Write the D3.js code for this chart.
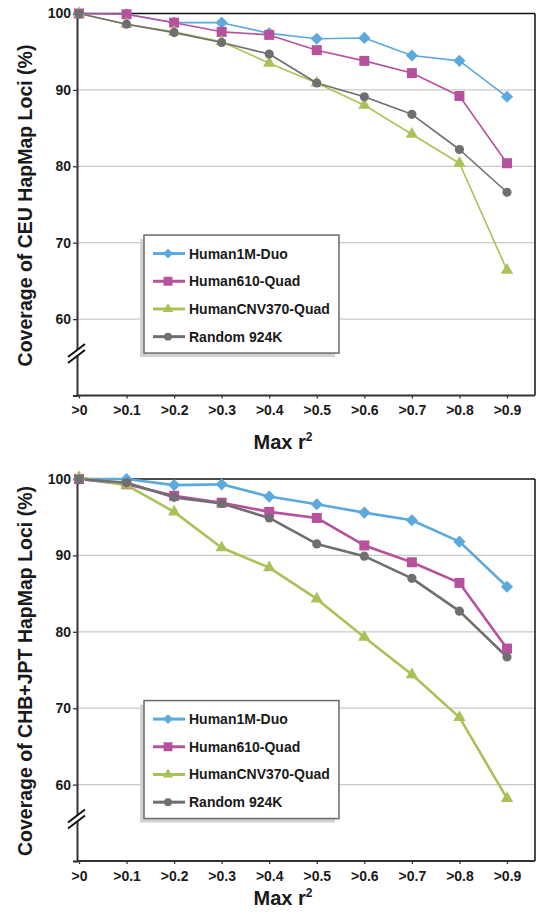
<!DOCTYPE html>
<html>
<head>
<meta charset="utf-8">
<script src="https://cdn.jsdelivr.net/npm/d3@7"></script>
<style>
  body { margin: 0; background: #fff; }
  svg text { font-family: "Liberation Sans", Arial, sans-serif; font-weight: bold; fill: #1a1a1a; }
</style>
</head>
<body>
<svg id="chart" width="539" height="915"></svg>
<script>
// categories on the x axis
const categories = [">0", ">0.1", ">0.2", ">0.3", ">0.4", ">0.5", ">0.6", ">0.7", ">0.8", ">0.9"];
const seriesNames = ["Human1M-Duo", "Human610-Quad", "HumanCNV370-Quad", "Random 924K"];
const seriesColors = ["#5BA9DD", "#B6519D", "#A9C257", "#6F6F72"];
const seriesSymbols = ["diamond", "square", "triangle", "circle"];
const yTicks = [50, 60, 70, 80, 90, 100];

// CEU panel values (%)
const ceuHuman1M = [100, 99.9, 98.8, 98.8, 97.4, 96.7, 96.8, 94.5, 93.8, 89.1];
const ceuHuman610 = [100, 99.9, 98.8, 97.6, 97.2, 95.2, 93.8, 92.2, 89.2, 80.4];
const ceuCNV370 = [100, 98.6, 97.6, 96.3, 93.5, 90.9, 88.0, 84.2, 80.4, 66.4];
const ceuRandom = [100, 98.6, 97.5, 96.2, 94.7, 90.9, 89.1, 86.8, 82.2, 76.6];

// CHB+JPT panel values (%)
const chbHuman1M = [100, 100, 99.2, 99.3, 97.7, 96.7, 95.6, 94.6, 91.8, 85.9];
const chbHuman610 = [100, 99.3, 97.8, 96.9, 95.7, 94.9, 91.3, 89.1, 86.4, 77.8];
const chbCNV370 = [100.2, 99.2, 95.7, 91.0, 88.4, 84.3, 79.3, 74.4, 68.8, 58.2];
const chbRandom = [100, 99.5, 97.6, 96.8, 94.9, 91.5, 89.9, 87.0, 82.7, 76.7];

const svg = d3.select("#chart");
const plotLeft = 77, plotRight = 535, plotH = 382;

function markerPath(type, size) {
  if (type === "diamond") return d3.symbol(d3.symbolSquare, size)();
  if (type === "square") return d3.symbol(d3.symbolSquare, size)();
  if (type === "triangle") return d3.symbol(d3.symbolTriangle, size)();
  return d3.symbol(d3.symbolCircle, size)();
}
const chartSizes = { diamond: 74, square: 100, triangle: 66, circle: 66 };
const legendSizes = { diamond: 48, square: 80, triangle: 46, circle: 48 };

function drawPanel(top, seriesList, yTitle, lineW, xTitleY) {
  const g = svg.append("g").attr("transform", `translate(0,${top})`);

  const x = d3.scalePoint().domain(categories).range([79, 507]);
  const y = d3.scaleLinear().domain([50, 100]).range([plotH, 0]);

  // gridlines
  g.selectAll("line.grid")
    .data([60, 70, 80, 90])
    .join("line")
    .attr("class", "grid")
    .attr("x1", plotLeft).attr("x2", plotRight)
    .attr("y1", d => y(d)).attr("y2", d => y(d))
    .attr("stroke", "#c9c9c9").attr("stroke-width", 1.3);

  // frame top/right
  g.append("line").attr("x1", plotLeft).attr("x2", plotRight)
    .attr("y1", y(100)).attr("y2", y(100)).attr("stroke", "#111").attr("stroke-width", 1.5);
  g.append("line").attr("x1", plotRight).attr("x2", plotRight)
    .attr("y1", y(100)).attr("y2", y(50)).attr("stroke", "#111").attr("stroke-width", 1.5);

  // y axis
  const yAxis = g.append("g")
    .attr("transform", `translate(${plotLeft},0)`)
    .call(d3.axisLeft(y).tickValues(yTicks).tickSize(4).tickPadding(2)
      .tickFormat(d => d === 50 ? "" : d));
  yAxis.select(".domain").attr("stroke", "#333").attr("stroke-width", 2);
  yAxis.selectAll(".tick line").attr("stroke", "#333").attr("stroke-width", 1.3);
  yAxis.selectAll("text").style("font-size", "14px").attr("fill", "#1a1a1a");

  // x axis
  const xAxis = g.append("g")
    .attr("transform", `translate(0,${plotH})`)
    .call(d3.axisBottom(x).tickSize(3).tickPadding(7).tickSizeOuter(0));
  xAxis.select(".domain").attr("d", `M${plotLeft},0H${plotRight}`)
    .attr("stroke", "#333").attr("stroke-width", 2);
  xAxis.selectAll(".tick line").attr("stroke", "#333").attr("stroke-width", 1.3);
  xAxis.selectAll("text").style("font-size", "14px").attr("fill", "#1a1a1a");

  // axis break
  const by = y(55.3);
  g.append("path")
    .attr("d", `M${plotLeft - 8},${by + 7}L${plotLeft + 8},${by - 5}L${plotLeft + 8},${by - 11}L${plotLeft - 8},${by + 1}Z`)
    .attr("fill", "#fff");
  g.selectAll("line.brk")
    .data([0, 6])
    .join("line")
    .attr("class", "brk")
    .attr("x1", plotLeft - 9).attr("x2", plotLeft + 8)
    .attr("y1", d => by + 2 + d).attr("y2", d => by - 11 + d)
    .attr("stroke", "#111").attr("stroke-width", 2);

  // series
  const line = d3.line().x((d, i) => x(categories[i])).y(d => y(d));
  seriesList.forEach((vals, si) => {
    g.append("path")
      .datum(vals)
      .attr("d", line)
      .attr("fill", "none")
      .attr("stroke", seriesColors[si])
      .attr("stroke-width", lineW)
      .attr("stroke-linejoin", "round");
  });
  seriesList.forEach((vals, si) => {
    const sym = seriesSymbols[si];
    g.selectAll("path.m" + si)
      .data(vals)
      .join("path")
      .attr("class", "m" + si)
      .attr("d", markerPath(sym, chartSizes[sym]))
      .attr("transform", (d, i) => `translate(${x(categories[i])},${y(d)})` + (sym === "diamond" ? " rotate(45)" : ""))
      .attr("fill", seriesColors[si]);
  });

  // legend
  const lx = 144, ly = y(71), lw = 195, lh = 118;
  g.append("rect").attr("x", lx - 4).attr("y", ly + 4).attr("width", lw).attr("height", lh)
    .attr("fill", "#d2d2d2");
  g.append("rect").attr("x", lx).attr("y", ly).attr("width", lw).attr("height", lh)
    .attr("fill", "#fff").attr("stroke", "#6a6a6a").attr("stroke-width", 1.5);
  seriesNames.forEach((name, si) => {
    const ry = ly + 18.5 + si * 27.7;
    const sym = seriesSymbols[si];
    g.append("line").attr("x1", lx + 9).attr("x2", lx + 41)
      .attr("y1", ry).attr("y2", ry)
      .attr("stroke", seriesColors[si]).attr("stroke-width", 3);
    g.append("path")
      .attr("d", markerPath(sym, legendSizes[sym]))
      .attr("transform", `translate(${lx + 24},${ry})` + (sym === "diamond" ? " rotate(45)" : ""))
      .attr("fill", seriesColors[si]);
    g.append("text").attr("x", lx + 45).attr("y", ry + 5)
      .style("font-size", "14px").text(name);
  });

  // axis titles
  g.append("text")
    .attr("transform", `translate(32,${192}) rotate(-90)`)
    .attr("text-anchor", "middle")
    .style("font-size", "19.5px")
    .text(yTitle);

  const xt = g.append("text")
    .attr("x", 283).attr("y", xTitleY)
    .attr("text-anchor", "middle")
    .style("font-size", "20px");
  xt.append("tspan").text("Max r");
  xt.append("tspan").attr("dy", -8).style("font-size", "12px").text("2");
}

drawPanel(13.5, [ceuHuman1M, ceuHuman610, ceuCNV370, ceuRandom],
  "Coverage of CEU HapMap Loci (%)", 1.6, 435.5);
drawPanel(479, [chbHuman1M, chbHuman610, chbCNV370, chbRandom],
  "Coverage of CHB+JPT HapMap Loci (%)", 2.6, 426);
</script>
</body>
</html>
